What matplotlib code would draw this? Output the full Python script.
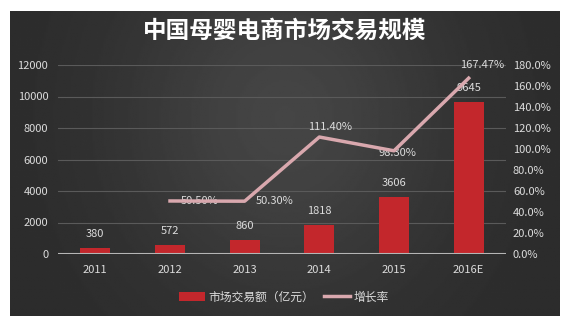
import numpy as np
import matplotlib.pyplot as plt
from matplotlib.patches import Patch
from matplotlib.lines import Line2D

plt.rcParams['font.family'] = ['Noto Sans CJK SC', 'DejaVu Sans']

# Data
years = ['2011', '2012', '2013', '2014', '2015', '2016E']
amount = [380, 572, 860, 1818, 3606, 9645]          # 市场交易额（亿元）
growth = [np.nan, 50.50, 50.30, 111.40, 98.30, 167.47]  # 增长率 %
growth_labels = ['', '50.50%', '50.30%', '111.40%', '98.30%', '167.47%']
label_offsets = [(0, 0), (30, 0), (30, 0), (11, 10), (3, -2), (13, 13)]

text_col = '#dcdcdc'
bar_col = '#c3272c'
line_col = '#d9a8ae'

W, H = 570, 321
fig = plt.figure(figsize=(W / 100, H / 100), dpi=100, facecolor='white')

# dark panel with soft gradient
bg = fig.add_axes([10 / W, 1 - 316 / H, 550 / W, 305 / H])
gx = np.linspace(-1, 1, 300)
gy = np.linspace(-1, 1, 200)
X, Y = np.meshgrid(gx, gy)
shade = 0.17 + 0.10 * np.exp(-(X / 0.6) ** 2) * np.exp(-((Y + 0.3) / 1.2) ** 2)
bg.imshow(shade, cmap='gray', vmin=0, vmax=1, aspect='auto', origin='upper',
          extent=[0, 1, 0, 1])
bg.set_axis_off()

ax = fig.add_axes([58 / W, 1 - 254 / H, 448 / W, 189 / H])
ax.set_facecolor('none')
x = np.arange(len(years))

bars = ax.bar(x, amount, width=0.4, color=bar_col, zorder=3)
for xi, v in zip(x, amount):
    ax.annotate(str(v), (xi, v), xytext=(0, 14), textcoords='offset pixels',
                ha='center', va='center', color=text_col, fontsize=8)

ax.set_xlim(-0.5, len(years) - 0.5)
ax.set_ylim(0, 12000)
ax.set_yticks(np.arange(0, 12001, 2000))
ax.set_xticks(x)
ax.set_xticklabels(years)
ax.tick_params(axis='both', length=0, colors=text_col, labelsize=8)
ax.tick_params(axis='y', pad=7)
ax.tick_params(axis='x', pad=8)
ax.grid(axis='y', color='#5a5a5a', linewidth=0.8, zorder=0)
for s in ax.spines.values():
    s.set_visible(False)
ax.axhline(0, color='#b5b5b5', linewidth=1.5, zorder=4)

ax2 = ax.twinx()
ax2.set_ylim(0, 180)
ax2.set_yticks(np.arange(0, 181, 20))
ax2.set_yticklabels(['%.1f%%' % t for t in np.arange(0, 181, 20)])
ax2.tick_params(axis='y', length=0, colors=text_col, labelsize=8, pad=5)
for s in ax2.spines.values():
    s.set_visible(False)
ax2.plot(x, growth, color=line_col, linewidth=2.5, zorder=5)
for xi, g, lab, off in zip(x, growth, growth_labels, label_offsets):
    if lab:
        ax2.annotate(lab, (xi, g), xytext=off, textcoords='offset pixels',
                     ha='center', va='center', color=text_col, fontsize=8)

fig.text(0.5, 1 - 31 / H, '中国母婴电商市场交易规模', ha='center', va='center',
         color='white', fontsize=17, fontweight='bold')

handles = [Patch(facecolor=bar_col, edgecolor='none'),
           Line2D([0], [0], color=line_col, linewidth=2.5)]
fig.legend(handles, ['市场交易额（亿元）', '增长率'], loc='center',
           bbox_to_anchor=(284 / W, 1 - 297 / H), ncol=2, frameon=False,
           fontsize=8.5, labelcolor=text_col, handlelength=2.2,
           handletextpad=0.3, columnspacing=0.8)

fig.savefig('out.png', dpi=100, facecolor='white')
